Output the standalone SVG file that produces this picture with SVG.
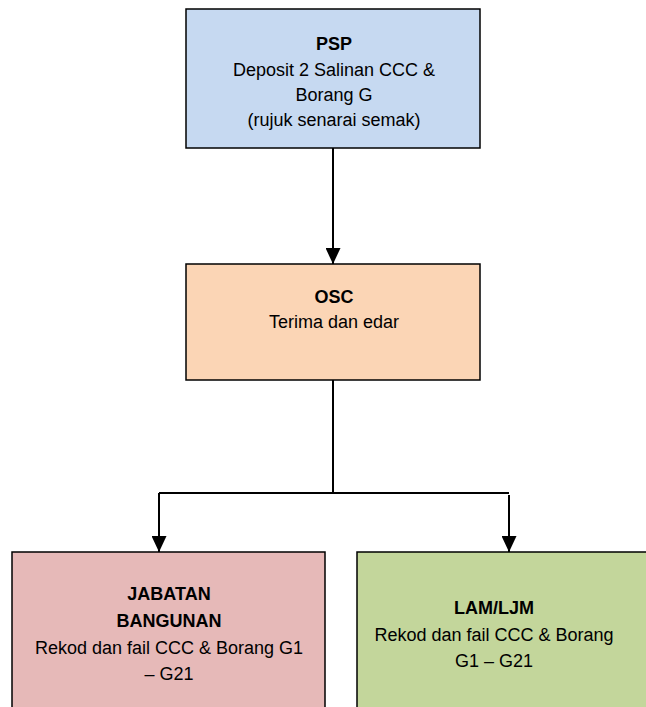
<svg xmlns="http://www.w3.org/2000/svg" width="646" height="707" viewBox="0 0 646 707">
  <defs>
    <style>
      .box { stroke: #000; stroke-width: 1.5; }
      .t { font-family: "Liberation Sans", Arial, sans-serif; font-size: 18px; fill: #000; text-anchor: middle; }
      .b { font-weight: bold; }
      .conn { fill: none; stroke: #000; stroke-width: 2; }
    </style>
    <marker id="arr" viewBox="0 0 16 15" refX="16" refY="7.5" markerWidth="16" markerHeight="15" markerUnits="userSpaceOnUse" orient="auto">
      <path d="M0,0 L16,7.5 L0,15 Z" fill="#000"/>
    </marker>
  </defs>
  <rect width="646" height="707" fill="#fff"/>

  <g id="connectors">
    <line class="conn" x1="333" y1="148" x2="333" y2="264" marker-end="url(#arr)"/>
    <polyline class="conn" points="333,380 333,493"/>
    <polyline class="conn" points="159,493 509,493"/>
    <line class="conn" x1="159" y1="493" x2="159" y2="552" marker-end="url(#arr)"/>
    <line class="conn" x1="509" y1="495" x2="509" y2="552" marker-end="url(#arr)"/>
  </g>

  <g id="psp">
    <rect class="box" x="186" y="9" width="294" height="139" fill="#C6D9F1"/>
    <text class="t b" x="334" y="50">PSP</text>
    <text class="t" x="334" y="76">Deposit 2 Salinan CCC &amp;</text>
    <text class="t" x="334" y="101">Borang G</text>
    <text class="t" x="334" y="126">(rujuk senarai semak)</text>
  </g>

  <g id="osc">
    <rect class="box" x="186" y="264" width="294" height="116" fill="#FBD5B5"/>
    <text class="t b" x="334" y="303">OSC</text>
    <text class="t" x="334" y="328">Terima dan edar</text>
  </g>

  <g id="jabatan">
    <rect class="box" x="12" y="552" width="313" height="170" fill="#E6B9B8"/>
    <text class="t b" x="169" y="600">JABATAN</text>
    <text class="t b" x="169" y="627">BANGUNAN</text>
    <text class="t" x="169" y="654">Rekod dan fail CCC &amp; Borang G1</text>
    <text class="t" x="169" y="680">– G21</text>
  </g>

  <g id="lam">
    <rect class="box" x="357" y="552" width="313" height="170" fill="#C3D69B"/>
    <text class="t b" x="494" y="614">LAM/LJM</text>
    <text class="t" x="494" y="641">Rekod dan fail CCC &amp; Borang</text>
    <text class="t" x="494" y="667">G1 – G21</text>
  </g>
</svg>
